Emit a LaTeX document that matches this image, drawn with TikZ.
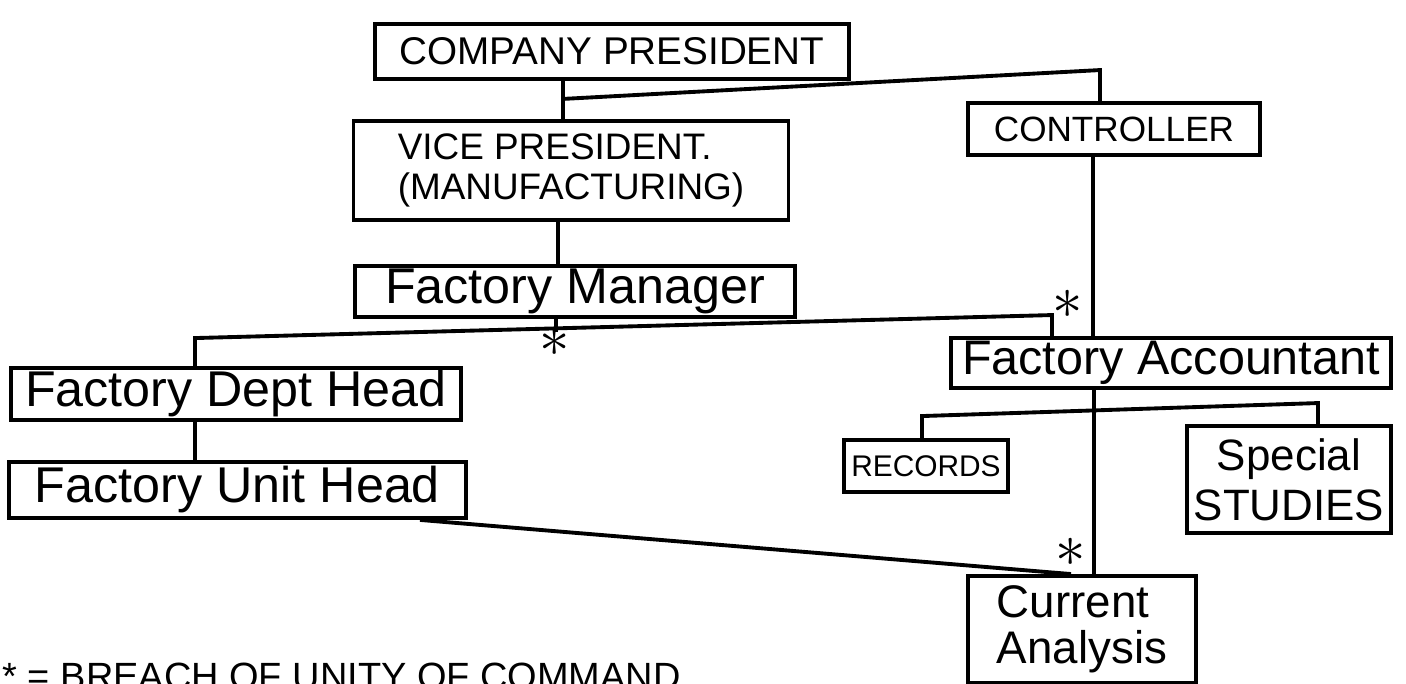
\documentclass[tikz,border=0pt]{standalone}
\usepackage{fontspec}
\setmainfont{Liberation Sans}

\begin{document}
\begin{tikzpicture}[
    x=0.1mm,y=-0.1mm,
    orgbox/.style={draw,line width=1.1pt,inner sep=0pt},
    link/.style={line width=1.1pt},
    capsfont/.style={font=\fontsize{11}{12}\selectfont},
    handfont/.style={font=\fontsize{14.3}{16}\selectfont},
    breach/.style={font=\fontsize{18}{18}\selectfont,inner sep=0pt}
    ]

    \useasboundingbox (0,0) rectangle (1406,684);

    \node(pres) [orgbox,capsfont,minimum width=47.4mm,minimum height=5.5mm] at (612,51.5) {COMPANY PRESIDENT};
    \node(vp) [orgbox,font=\fontsize{10.5}{11.4}\selectfont,align=left,minimum width=43.5mm,minimum height=9.9mm] at (571,170.5) {VICE PRESIDENT.\\(MANUFACTURING)};
    \node(ctrl) [orgbox,font=\fontsize{10}{12}\selectfont,minimum width=29.2mm,minimum height=5.2mm] at (1114,129) {CONTROLLER};
    \node(fm) [orgbox,handfont,minimum width=44mm,minimum height=5.1mm] at (575,291.5) {Factory Manager};

    \node(dh) [orgbox,handfont,minimum width=45mm,minimum height=5.2mm] at (236,394) {Factory Dept Head};
    \node(uh) [orgbox,handfont,minimum width=45.7mm,minimum height=5.6mm] at (237.5,490) {Factory Unit Head};
    \node(acct) [orgbox,font=\fontsize{13.8}{16}\selectfont,minimum width=44mm,minimum height=5mm] at (1171,363) {Factory Accountant};

    \node(rec) [orgbox,font=\fontsize{8.5}{10}\selectfont,minimum width=16.4mm,minimum height=5.2mm] at (926,466) {RECORDS};
    \node(ss) [orgbox,font=\fontsize{12.5}{14.2}\selectfont,align=center,minimum width=20.4mm,minimum height=10.7mm] at (1289,479.5) {Special\\STUDIES};
    \node(ca) [orgbox,font=\fontsize{13}{13.1}\selectfont,align=left,minimum width=22.8mm,minimum height=10.7mm] at (1082,629.5) {Current\\Analysis};

    \draw[link] ([xshift=-4.9mm]pres.south) -- ([xshift=-0.8mm]vp.north);
    \draw[link] ([xshift=-4.9mm,yshift=-1.8mm]pres.south) -- ([xshift=-1.4mm,yshift=3.1mm]ctrl.north) -- ([xshift=-1.4mm]ctrl.north);
    \draw[link] ([xshift=-1.3mm]vp.south) -- ([xshift=-1.7mm]fm.north);
    \draw[link] ([xshift=-1.9mm]fm.south) -- ++(0,13);
    \draw[link] ([xshift=-4.1mm]dh.north) -- ([xshift=-4.1mm,yshift=2.8mm]dh.north) -- ([xshift=-11.9mm,yshift=2.1mm]acct.north) -- ([xshift=-11.9mm]acct.north);
    \draw[link] ([xshift=-2.1mm]ctrl.south) -- ([xshift=-7.8mm]acct.north);
    \draw[link] ([xshift=-4.1mm]dh.south) -- ([xshift=-4.25mm]uh.north);
    \draw[link] ([xshift=-7.7mm]acct.south) -- ([xshift=1.2mm]ca.north);
    \draw[link] ([xshift=-0.4mm]rec.north) -- ([xshift=-0.4mm,yshift=2.2mm]rec.north) -- ([xshift=2.9mm,yshift=2.1mm]ss.north) -- ([xshift=2.9mm]ss.north);
    \draw[link] ([xshift=18.25mm]uh.south) -- ([xshift=-1.1mm]ca.north);

    \node(star_fm) [breach] at (555,342) {$\ast$};
    \node(star_ctrl) [breach] at (1068,304) {$\ast$};
    \node(star_ca) [breach] at (1071,552) {$\ast$};

    \node(note) [anchor=base west,font=\fontsize{10.8}{12}\selectfont,inner sep=0pt] at (2,690) {* = BREACH OF UNITY OF COMMAND};

\end{tikzpicture}
\end{document}
